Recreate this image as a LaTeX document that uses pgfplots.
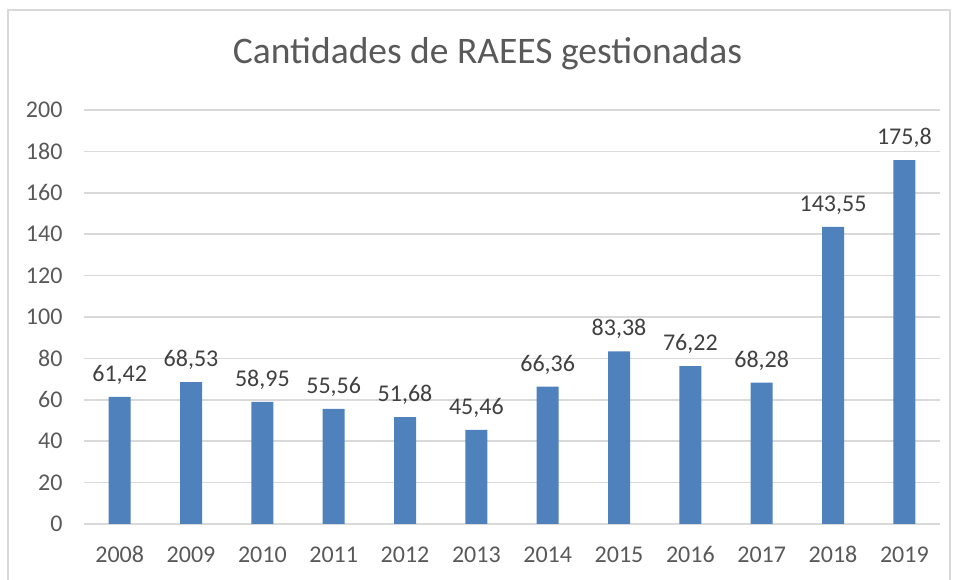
\documentclass[border=0pt]{standalone}
\usepackage{fontspec}
\setmainfont{Carlito}
\usepackage{pgfplots}
\pgfplotsset{compat=1.18}
\definecolor{barblue}{HTML}{4F81BD}
\definecolor{gridc}{HTML}{D9D9D9}
\definecolor{txt}{HTML}{595959}
\definecolor{lbl}{HTML}{404040}
\begin{document}
\begin{tikzpicture}[x=1pt,y=1pt]
\useasboundingbox (0,0) rectangle (955,580);
\draw[gridc, line width=1.5pt] (8,-5) -- (8,570) -- (950,570) -- (950,-5);
\node[txt, anchor=base, font=\fontsize{37.5}{42}\selectfont] at (487.5,516) {Cantidades de RAEES gestionadas};
\begin{axis}[
  at={(84pt,56pt)}, anchor=south west, scale only axis,
  width=856pt, height=414pt,
  ybar, bar width=22pt,
  xmin=-0.5, xmax=11.5, ymin=0, ymax=200,
  ytick={0,20,...,200},
  xtick={0,...,11},
  xticklabels={2008,2009,2010,2011,2012,2013,2014,2015,2016,2017,2018,2019},
  axis line style={draw=none},
  major tick length=0pt,
  ymajorgrids, grid style={gridc, line width=1.5pt},
  /pgf/number format/assume math mode=true,
  ticklabel style={txt, font=\fontsize{24}{27}\selectfont},
  yticklabel style={xshift=-18pt},
  xticklabel style={yshift=-19pt},
  nodes near coords={\pgfmathprintnumber[use comma,precision=2]{\pgfplotspointmeta}},
  nodes near coords style={lbl, font=\fontsize{24}{27}\selectfont, anchor=south, yshift=9pt},
]
\addplot[fill=barblue, draw=none] coordinates {
(0,61.42) (1,68.53) (2,58.95) (3,55.56) (4,51.68) (5,45.46)
(6,66.36) (7,83.38) (8,76.22) (9,68.28) (10,143.55) (11,175.8)};
\end{axis}
\end{tikzpicture}
\end{document}
